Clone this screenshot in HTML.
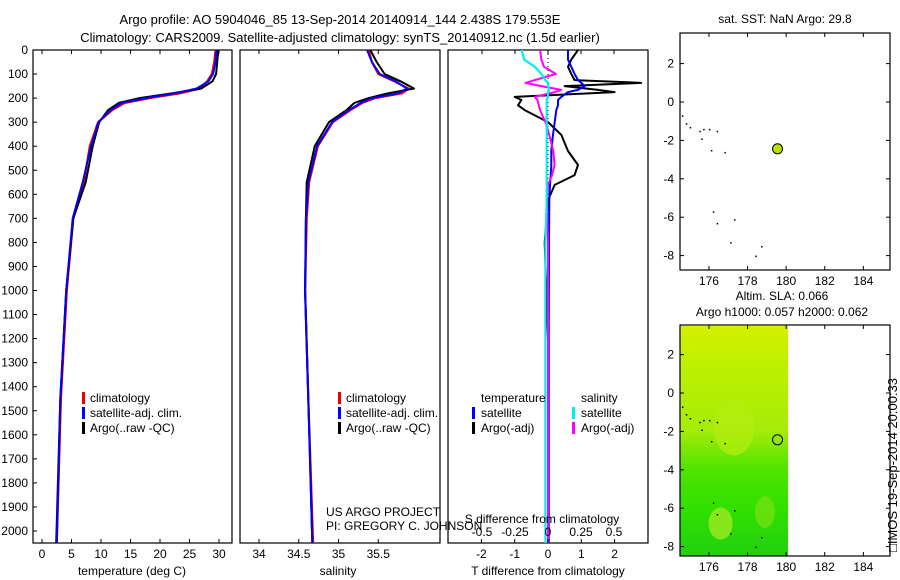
<!DOCTYPE html>
<html><head><meta charset="utf-8">
<style>
html,body{margin:0;padding:0;background:#fff;}
svg{display:block;font-family:"Liberation Sans",sans-serif;}
text{font-size:12px;fill:#000;}
</style></head>
<body>
<svg id="c" width="900" height="580" viewBox="0 0 900 580" xmlns="http://www.w3.org/2000/svg">
<text x="340" y="24" text-anchor="middle" style="font-size:13px">Argo profile: AO 5904046_85 13-Sep-2014 20140914_144 2.438S 179.553E</text>
<text x="340" y="42" text-anchor="middle" style="font-size:13px">Climatology: CARS2009. Satellite-adjusted climatology: synTS_20140912.nc (1.5d earlier)</text>
</svg>
<script>
// ---- data ----
const depthLevels=[0,50,100,130,160,180,200,220,250,300,400,550,700,1000,1450,2050];
const tempClim=[29.4,29.2,28.8,28.0,26.8,23.4,18.3,14.0,11.9,9.5,8.1,7.1,5.3,4.2,3.2,2.5];
const tempSat=[29.6,29.4,29.0,28.2,26.2,22.5,17.5,13.5,11.6,9.6,8.3,6.9,5.2,4.1,3.1,2.5];
const tempArgo=[29.9,29.7,29.5,28.9,27.0,22.0,16.5,13.0,11.2,9.7,8.6,7.4,5.3,4.1,3.1,2.4];
const salClim=[35.38,35.42,35.5,35.7,35.88,35.8,35.46,35.3,35.15,34.93,34.74,34.63,34.6,34.58,34.62,34.68];
const salSat=[35.36,35.42,35.52,35.72,35.86,35.75,35.42,35.28,35.13,34.92,34.73,34.62,34.59,34.58,34.62,34.67];
const salArgo=[35.4,35.48,35.58,35.78,35.95,35.62,35.38,35.2,35.1,34.88,34.7,34.6,34.59,34.58,34.62,34.67];
const diffDepths=[0,40,70,100,125,137,150,166,175,195,208,230,250,300,353,420,478,520,561,624,800,1200,1600,2050];
const dTArgo=[0.9,0.7,0.6,0.7,0.8,2.8,0.5,1.5,2.0,-1.0,-0.8,-0.9,-0.7,0.0,0.4,0.6,0.9,0.8,0.2,0.0,-0.1,0.0,0.0,0.0];
const dTSat=[0.6,0.6,0.7,0.8,0.9,1.0,1.1,0.9,0.6,0.4,0.3,0.3,0.25,0.2,0.15,0.1,0.1,0.08,0.06,0.04,0.03,0.02,0.02,0.02];
const dSArgo=[-0.06,-0.05,-0.03,0.06,-0.1,-0.17,-0.05,0.1,0.05,-0.1,-0.08,-0.07,-0.06,-0.02,0.01,0.04,0.05,0.03,0.0,-0.01,0.0,0.0,0.0,0.0];
const dSSat=[-0.2,-0.18,-0.1,-0.05,-0.02,0.0,0.0,0.01,0.0,0.0,-0.01,-0.01,-0.01,-0.01,-0.01,-0.01,-0.01,-0.01,-0.01,-0.01,-0.02,-0.02,-0.02,-0.02];
const depthTicks=[0,100,200,300,400,500,600,700,800,900,1000,1100,1200,1300,1400,1500,1600,1700,1800,1900,2000];
const tempTicks=[0,5,10,15,20,25,30];
const salTicks=[34,34.5,35,35.5];
const dTTicks=[-2,-1,0,1,2];
const dSTicks=[-0.5,-0.25,0,0.25,0.5];
const lonTicks=[176,178,180,182,184];
const latTicks=[2,0,-2,-4,-6,-8];
const floatLon=179.553, floatLat=-2.438;
const islandsLon=[174.6,174.8,175.0,175.5,175.7,175.6,176.0,176.4,176.1,176.8,176.2,176.4,177.3,177.1,178.7,178.4];
const islandsLat=[-0.7,-1.1,-1.3,-1.5,-1.4,-1.9,-1.4,-1.5,-2.5,-2.6,-5.7,-6.3,-6.1,-7.3,-7.5,-8.0];

const NS='http://www.w3.org/2000/svg';
const svg=document.getElementById('c');
function el(tag,attrs,parent){const e=document.createElementNS(NS,tag);for(const k in attrs)e.setAttribute(k,attrs[k]);(parent||svg).appendChild(e);return e;}
function txt(x,y,s,anchor,parent,size){const t=el('text',{x:x,y:y,'text-anchor':anchor||'start'},parent);if(size)t.style.fontSize=size+'px';t.textContent=s;return t;}

const yD=d=>50+d*0.2405;
const P1={x0:33,x1:232}, P2={x0:240,x1:440}, P3={x0:448,x1:648};
const xT=v=>42+v*5.9;
const xS=v=>259+(v-34)*79.5;
const xDT=v=>548+v*33.3;
const xDS=v=>548+v*132;

function frame(P,name){
  const r=el('rect',{x:P.x0,y:50,width:P.x1-P.x0,height:493,fill:'none',stroke:'#000','stroke-width':1.2});
  
}
function line(xs,ds,fx,color,w,name,parent){
  const pts=xs.map((v,i)=>fx(v).toFixed(1)+','+yD(ds[i]).toFixed(1)).join(' ');
  const p=el('polyline',{points:pts,fill:'none',stroke:color,'stroke-width':w,'stroke-linejoin':'round'},parent);
  
}
// depth axis
const yax=el('g',{});

depthTicks.forEach(d=>{txt(28,yD(d)+4,String(d),'end',yax);el('line',{x1:33,x2:37,y1:yD(d),y2:yD(d),stroke:'#000'},yax);});

// panel 1
frame(P1,'temperature-panel');
const g1=el('g',{});
line(tempClim,depthLevels,xT,'#e00',2.2,'temp-climatology-line',g1);
line(tempArgo,depthLevels,xT,'#000',2,'temp-argo-line',g1);
line(tempSat,depthLevels,xT,'#00f',2,'temp-satellite-line',g1);
const t1=el('g',{});
tempTicks.forEach(v=>{txt(xT(v),558,String(v),'middle',t1);el('line',{x1:xT(v),x2:xT(v),y1:543,y2:539,stroke:'#000'},t1);el('line',{x1:xT(v),x2:xT(v),y1:50,y2:54,stroke:'#000'},t1);});
txt(132,575,'temperature (deg C)','middle',t1);

// panel 2
frame(P2,'salinity-panel');
const g2=el('g',{});
line(salClim,depthLevels,xS,'#e00',2.2,'sal-climatology-line',g2);
line(salArgo,depthLevels,xS,'#000',2,'sal-argo-line',g2);
line(salSat,depthLevels,xS,'#00f',2,'sal-satellite-line',g2);
const t2=el('g',{});
salTicks.forEach(v=>{txt(xS(v),558,String(v),'middle',t2);el('line',{x1:xS(v),x2:xS(v),y1:543,y2:539,stroke:'#000'},t2);el('line',{x1:xS(v),x2:xS(v),y1:50,y2:54,stroke:'#000'},t2);});
txt(338,575,'salinity','middle',t2);

// legends p1,p2
function legend(x,y,items,name){
  const g=el('g',{});
  items.forEach((it,i)=>{el('rect',{x:x,y:y+i*15-10,width:3,height:12,fill:it[1]},g);txt(x+8,y+i*15,it[0],'start',g);});
}
legend(82,402,[['climatology','#e00'],['satellite-adj. clim.','#00f'],['Argo(..raw -QC)','#000']],'temperature-legend');
legend(338,402,[['climatology','#e00'],['satellite-adj. clim.','#00f'],['Argo(..raw -QC)','#000']],'salinity-legend');
txt(326,516,'US ARGO PROJECT','start');
txt(326,530,'PI: GREGORY C. JOHNSON','start');

// panel 3
frame(P3,'difference-panel');
const zl=el('line',{x1:548,x2:548,y1:50,y2:543,stroke:'#000','stroke-dasharray':'1,3'});

const g3=el('g',{});
line(dTArgo,diffDepths,xDT,'#000',2,'temp-diff-argo-line',g3);
line(dTSat,diffDepths,xDT,'#00f',2,'temp-diff-satellite-line',g3);
line(dSArgo,diffDepths,xDS,'#f0f',2,'sal-diff-argo-line',g3);
line(dSSat,diffDepths,xDS,'#0ee',2.2,'sal-diff-satellite-line',g3);
const t3=el('g',{});
dTTicks.forEach(v=>{txt(xDT(v),558,String(v),'middle',t3);el('line',{x1:xDT(v),x2:xDT(v),y1:543,y2:539,stroke:'#000'},t3);});
txt(548,575,'T difference from climatology','middle',t3);
const t4=el('g',{});
dSTicks.forEach(v=>{txt(xDS(v),536,String(v),'middle',t4);el('line',{x1:xDS(v),x2:xDS(v),y1:50,y2:54,stroke:'#000'},t4);});
txt(542,523,'S difference from climatology','middle',t4);
const lg3=el('g',{});
txt(481,402,'temperature','start',lg3);txt(581,402,'salinity','start',lg3);
el('rect',{x:472,y:407,width:3,height:12,fill:'#00f'},lg3);txt(481,417,'satellite','start',lg3);
el('rect',{x:472,y:422,width:3,height:12,fill:'#000'},lg3);txt(481,432,'Argo(-adj)','start',lg3);
el('rect',{x:572,y:407,width:3,height:12,fill:'#0ee'},lg3);txt(581,417,'satellite','start',lg3);
el('rect',{x:572,y:422,width:3,height:12,fill:'#f0f'},lg3);txt(581,432,'Argo(-adj)','start',lg3);

// maps
const xL=v=>680+(v-174.5)*19.3;
function mapPanel(name,zeroY){
  const yL=v=>zeroY-v*19.2;
  const g=el('g',{});
  return {g,yL};
}
const m1=mapPanel('sst-map',102);
el('rect',{x:680,y:33,width:210,height:237,fill:'#fff',stroke:'#000','stroke-width':1.2},m1.g);
const m2=mapPanel('sla-map',393);
const defs=el('defs',{});
const lgr=el('linearGradient',{id:'sla',x1:0,y1:0,x2:0,y2:1},defs);
[['0','#d4f000'],['0.15','#c0f000'],['0.45','#a6ec08'],['0.62','#50e400'],['0.8','#30e000'],['1','#22d010']].forEach(s=>el('stop',{offset:s[0],'stop-color':s[1]},lgr));
const sla=el('rect',{x:680,y:326,width:xL(180.1)-680,height:230,fill:'url(#sla)'},m2.g);

el('ellipse',{cx:xL(177.3),cy:m2.yL(-1.8),rx:20,ry:28,fill:'#b4ee10',opacity:0.7},m2.g);
el('ellipse',{cx:xL(176.6),cy:m2.yL(-6.8),rx:12,ry:16,fill:'#90e820',opacity:0.9},m2.g);
el('ellipse',{cx:xL(178.9),cy:m2.yL(-6.2),rx:10,ry:16,fill:'#70e010',opacity:0.8},m2.g);
el('rect',{x:680,y:325,width:210,height:231,fill:'none',stroke:'#000','stroke-width':1.2},m2.g);

[[m1,270,33],[m2,556,325]].forEach(([m,bot,top])=>{
  lonTicks.forEach(v=>{txt(xL(v),bot+15,String(v),'middle',m.g);el('line',{x1:xL(v),x2:xL(v),y1:bot,y2:bot-4,stroke:'#000'},m.g);el('line',{x1:xL(v),x2:xL(v),y1:top,y2:top+4,stroke:'#000'},m.g);});
  latTicks.forEach(v=>{txt(674,m.yL(v)+4,String(v),'end',m.g);el('line',{x1:680,x2:684,y1:m.yL(v),y2:m.yL(v),stroke:'#000'},m.g);el('line',{x1:890,x2:886,y1:m.yL(v),y2:m.yL(v),stroke:'#000'},m.g);});
  islandsLon.forEach((v,i)=>{const r=el('rect',{x:xL(v),y:m.yL(islandsLat[i]),width:1.5,height:1.5,fill:'#000'},m.g);});
});
const f1=el('circle',{cx:xL(floatLon),cy:m1.yL(floatLat),r:5,fill:'#b8e000',stroke:'#000'},m1.g);

const f2=el('circle',{cx:xL(floatLon),cy:m2.yL(floatLat),r:5,fill:'none',stroke:'#000'},m2.g);

txt(785,23,'sat. SST: NaN Argo: 29.8','middle');
txt(782,300,'Altim. SLA: 0.066','middle');
txt(782,316,'Argo h1000: 0.057 h2000: 0.062','middle');
const ts=txt(0,0,'\u25A1IMOS 19-Sep-2014 20:00:33','middle');
ts.style.fontSize='13px';
ts.setAttribute('transform','translate(897,465) rotate(-90)');

</script>
</body></html>
